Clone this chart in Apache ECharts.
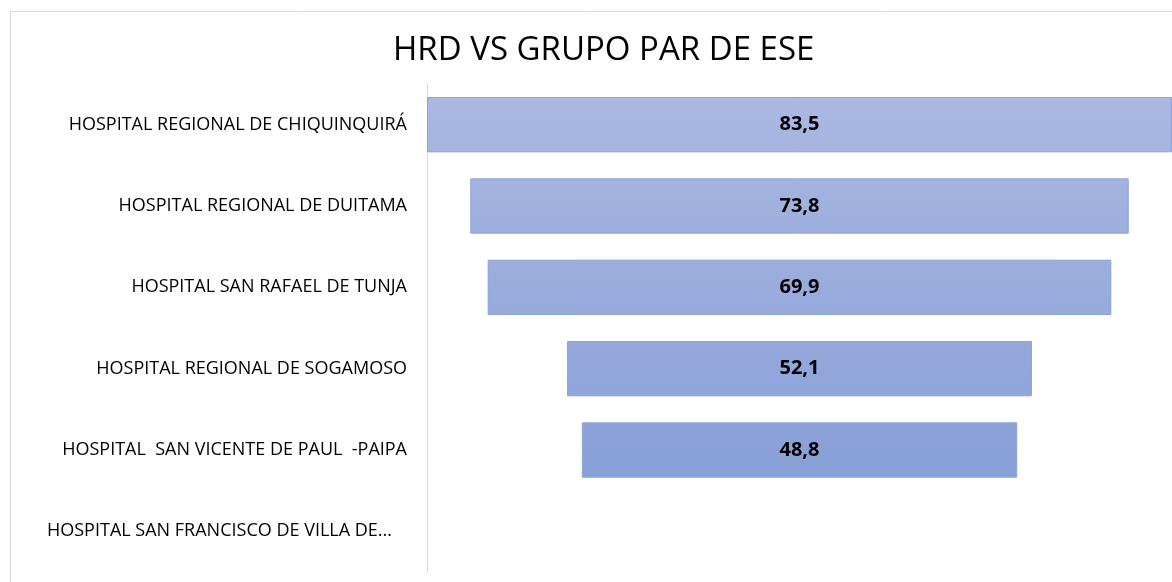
<!DOCTYPE html>
<html>
<head>
<meta charset="utf-8">
<title>HRD VS GRUPO PAR DE ESE</title>
<script src="https://cdn.jsdelivr.net/npm/echarts@6/dist/echarts.min.js"></script>
<style>
  html, body { margin: 0; padding: 0; background: #fff; }
  #chart { width: 1172px; height: 582px; }
</style>
</head>
<body>
<div id="chart"></div>
<script>
// datos del gráfico
const categories = [
  'HOSPITAL REGIONAL DE CHIQUINQUIRÁ',
  'HOSPITAL REGIONAL DE DUITAMA',
  'HOSPITAL SAN RAFAEL DE TUNJA',
  'HOSPITAL REGIONAL DE SOGAMOSO',
  'HOSPITAL  SAN VICENTE DE PAUL  -PAIPA',
  'HOSPITAL SAN FRANCISCO DE VILLA DE...'
]
const values = [83.5, 73.8, 69.9, 52.1, 48.8, null]
const axisMax = 83.5

// espacio invisible para centrar cada barra (embudo)
const offsets = values.map(v => v == null ? null : (axisMax - v) / 2)

// la etiqueta truncada queda un poco más a la izquierda, como en Excel
const categoryData = categories.map(name =>
  name.endsWith('...') ? { value: name, textStyle: { padding: [0, 15, 0, 0] } } : name
)

const chart = echarts.init(document.getElementById('chart'))

const option = {
  animation: false,
  title: {
    text: 'HRD VS GRUPO PAR DE ESE',
    left: 388,
    top: 29,
    textStyle: {
      fontFamily: 'Open Sans',
      fontSize: 33,
      fontWeight: 'normal',
      color: '#000'
    }
  },
  graphic: [{
    type: 'rect',
    shape: { x: 10.5, y: 11.5, width: 1300, height: 700 },
    style: { fill: 'none', stroke: '#d9d9d9', lineWidth: 1 },
    silent: true
  }],
  grid: {
    left: 427,
    right: 0,
    top: 84,
    bottom: 10,
    containLabel: false
  },
  xAxis: {
    type: 'value',
    min: 0,
    max: axisMax,
    show: false
  },
  yAxis: {
    type: 'category',
    inverse: true,
    data: categoryData,
    axisTick: { show: false },
    axisLine: { lineStyle: { color: '#d9d9d9', width: 1 } },
    axisLabel: {
      margin: 20,
      fontFamily: 'Open Sans',
      fontSize: 18,
      color: '#000'
    }
  },
  series: [
    {
      name: 'offset',
      type: 'bar',
      stack: 'funnel',
      data: offsets,
      barWidth: '68%',
      itemStyle: { color: 'transparent' },
      silent: true
    },
    {
      name: 'HRD',
      type: 'bar',
      stack: 'funnel',
      data: values,
      barWidth: '68%',
      itemStyle: {
        color: new echarts.graphic.LinearGradient(0, 90, 0, 480, [
          { offset: 0, color: '#abb9e2' },
          { offset: 1, color: '#889fd7' }
        ], true),
        borderColor: '#8da2d8',
        borderWidth: 1
      },
      label: {
        show: true,
        position: 'inside',
        fontFamily: 'Open Sans',
        fontSize: 20,
        fontWeight: 'bold',
        color: '#000',
        formatter: p => p.value == null ? '' : String(p.value.toFixed(1)).replace('.', ',')
      }
    }
  ]
}

chart.setOption(option)
</script>
</body>
</html>
